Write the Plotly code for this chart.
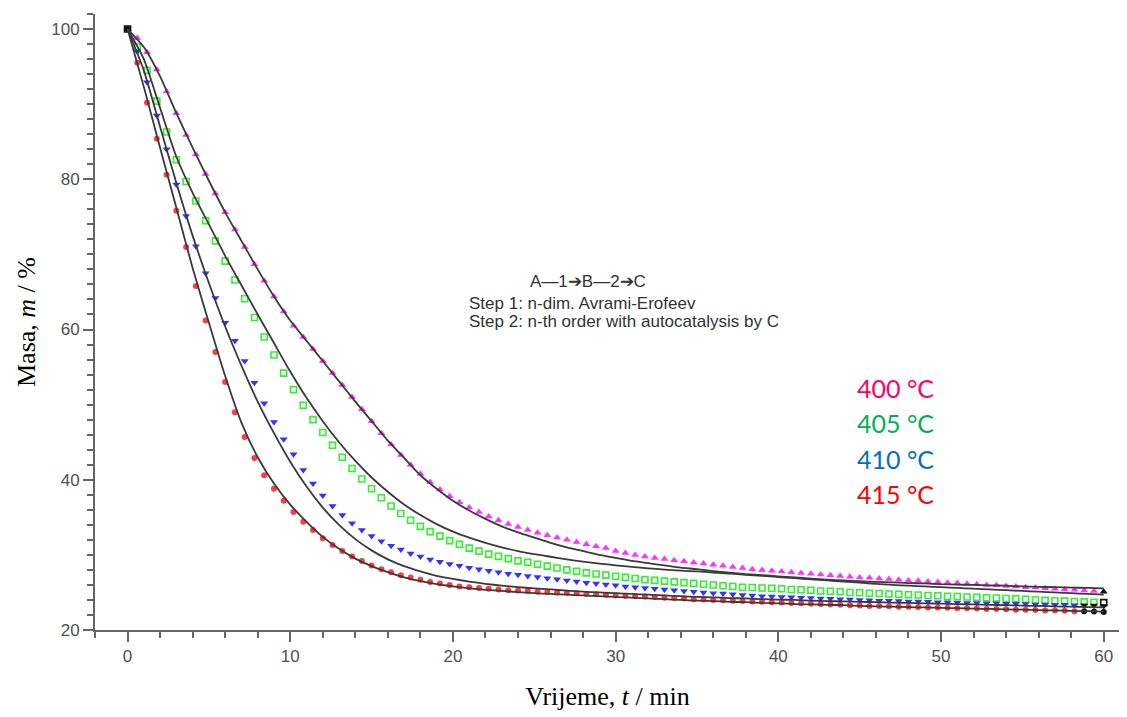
import plotly.graph_objects as go

# ---------------- data ----------------
TIME = [0.0, 0.6, 1.2, 1.8, 2.4, 3.0, 3.6, 4.2, 4.8, 5.4, 6.0, 6.6, 7.2, 7.8, 8.4, 9.0, 9.6,
        10.2, 10.8, 11.4, 12.0, 12.6, 13.2, 13.8, 14.4, 15.0, 15.6, 16.2, 16.8, 17.4, 18.0,
        18.6, 19.2, 19.8, 20.4, 21.0, 21.6, 22.2, 22.8, 23.4, 24.0, 24.6, 25.2, 25.8, 26.4,
        27.0, 27.6, 28.2, 28.8, 29.4, 30.0, 30.6, 31.2, 31.8, 32.4, 33.0, 33.6, 34.2, 34.8,
        35.4, 36.0, 36.6, 37.2, 37.8, 38.4, 39.0, 39.6, 40.2, 40.8, 41.4, 42.0, 42.6, 43.2,
        43.8, 44.4, 45.0, 45.6, 46.2, 46.8, 47.4, 48.0, 48.6, 49.2, 49.8, 50.4, 51.0, 51.6,
        52.2, 52.8, 53.4, 54.0, 54.6, 55.2, 55.8, 56.4, 57.0, 57.6, 58.2, 58.8, 59.4, 60.0]

M400 = [100.0, 98.8, 96.9, 94.6, 91.7, 88.8, 85.9, 83.3, 80.7, 78.1, 75.6, 73.3, 71.0, 68.7,
        66.5, 64.4, 62.4, 60.5, 59.0, 57.4, 55.8, 54.2, 52.6, 51.0, 49.4, 47.8, 46.2, 44.7,
        43.3, 42.0, 40.8, 39.7, 38.7, 37.8, 37.0, 36.3, 35.7, 35.1, 34.6, 34.1, 33.7, 33.3,
        32.95, 32.6, 32.3, 32.0, 31.7, 31.4, 31.15, 30.9, 30.5, 30.25, 30.0, 29.8, 29.6,
        29.45, 29.3, 29.15, 29.0, 28.85, 28.7, 28.55, 28.4, 28.25, 28.1, 28.0, 27.9, 27.8,
        27.7, 27.6, 27.5, 27.4, 27.3, 27.2, 27.1, 27.0, 26.95, 26.85, 26.8, 26.7, 26.6,
        26.55, 26.45, 26.4, 26.3, 26.25, 26.15, 26.1, 26.0, 25.95, 25.85, 25.8, 25.7, 25.65,
        25.55, 25.5, 25.4, 25.35, 25.25, 25.2, 25.1]

M405 = [100.0, 97.6, 94.5, 90.4, 86.3, 82.6, 79.7, 77.1, 74.5, 71.8, 69.1, 66.6, 64.1, 61.6,
        59.0, 56.6, 54.2, 52.0, 49.9, 48.0, 46.3, 44.6, 43.0, 41.5, 40.1, 38.8, 37.6, 36.5,
        35.5, 34.6, 33.8, 33.1, 32.5, 31.9, 31.4, 30.9, 30.5, 30.1, 29.8, 29.5, 29.2, 29.0,
        28.75, 28.5, 28.25, 28.0, 27.8, 27.6, 27.45, 27.3, 27.15, 27.0, 26.85, 26.7, 26.6,
        26.5, 26.4, 26.3, 26.2, 26.1, 26.0, 25.9, 25.8, 25.7, 25.65, 25.6, 25.55, 25.5,
        25.4, 25.35, 25.3, 25.2, 25.15, 25.1, 25.0, 24.95, 24.9, 24.85, 24.8, 24.75, 24.7,
        24.65, 24.6, 24.55, 24.5, 24.45, 24.4, 24.35, 24.3, 24.25, 24.2, 24.15, 24.1, 24.0,
        23.95, 23.9, 23.85, 23.8, 23.75, 23.7, 23.65]

M410 = [100.0, 97.0, 92.9, 88.5, 84.0, 79.3, 75.1, 71.1, 67.5, 64.2, 60.9, 58.5, 55.8, 52.9,
        50.2, 47.7, 45.4, 43.4, 41.3, 39.5, 37.9, 36.5, 35.3, 34.2, 33.3, 32.5, 31.8, 31.2,
        30.7, 30.2, 29.8, 29.4, 29.1, 28.8, 28.55, 28.3, 28.1, 27.9, 27.7, 27.5, 27.35,
        27.2, 27.05, 26.9, 26.75, 26.6, 26.45, 26.3, 26.2, 26.05, 25.95, 25.8, 25.7, 25.6,
        25.5, 25.4, 25.3, 25.2, 25.1, 25.0, 24.9, 24.85, 24.75, 24.65, 24.6, 24.5, 24.45,
        24.4, 24.35, 24.3, 24.25, 24.2, 24.15, 24.1, 24.05, 24.0, 23.95, 23.9, 23.9, 23.85,
        23.8, 23.8, 23.75, 23.7, 23.7, 23.65, 23.6, 23.6, 23.55, 23.55, 23.5, 23.5, 23.45,
        23.4, 23.4, 23.35, 23.35, 23.3, 23.3, 23.25, 23.2]

M415 = [100.0, 95.5, 90.2, 85.4, 80.6, 75.8, 71.0, 65.8, 61.2, 57.0, 53.0, 49.0, 45.7, 42.9,
        40.6, 38.8, 37.2, 35.7, 34.4, 33.3, 32.2, 31.3, 30.5, 29.8, 29.2, 28.6, 28.1, 27.7,
        27.3, 27.0, 26.7, 26.4, 26.2, 26.0, 25.8, 25.7, 25.6, 25.5, 25.4, 25.3, 25.25, 25.2,
        25.1, 25.05, 25.0, 24.95, 24.9, 24.8, 24.75, 24.7, 24.6, 24.55, 24.5, 24.45, 24.4,
        24.3, 24.25, 24.2, 24.1, 24.05, 24.0, 23.95, 23.9, 23.85, 23.8, 23.75, 23.7, 23.65,
        23.6, 23.55, 23.5, 23.45, 23.4, 23.35, 23.3, 23.25, 23.2, 23.2, 23.15, 23.1, 23.1,
        23.05, 23.0, 23.0, 22.95, 22.9, 22.9, 22.85, 22.8, 22.8, 22.75, 22.7, 22.7, 22.65,
        22.6, 22.6, 22.55, 22.5, 22.5, 22.45, 22.4]

FIT_TIME = [0, 1, 2, 3, 4, 5, 6, 7, 8, 9, 10, 11, 12, 13, 14, 15, 16, 17, 18, 19, 20,
            21, 22, 23, 24, 25, 26, 27, 28, 29, 30, 31, 32, 33, 34, 35, 36, 37, 38, 39, 40,
            41, 42, 43, 44, 45, 46, 47, 48, 49, 50, 51, 52, 53, 54, 55, 56, 57, 58, 59, 60]

FIT400 = [100.0, 97.6, 93.7, 88.8, 84.2, 79.8, 75.6, 71.8, 68.0, 64.4, 61.2, 58.5, 55.8,
          53.1, 50.4, 47.8, 45.2, 42.9, 40.6, 38.8, 37.2, 35.9, 34.8, 33.8, 33.0, 32.3,
          31.6, 31.0, 30.5, 30.0, 29.6, 29.2, 28.9, 28.6, 28.3, 28.1, 27.85, 27.65, 27.45,
          27.3, 27.15, 27.0, 26.85, 26.7, 26.6, 26.5, 26.4, 26.35, 26.25, 26.2, 26.1,
          26.05, 26.0, 25.95, 25.9, 25.8, 25.75, 25.7, 25.65, 25.6, 25.55]

FIT405 = [100.0, 96.0, 89.5, 83.0, 78.2, 74.0, 69.8, 65.9, 62.0, 58.2, 54.4, 50.9, 47.8,
          45.0, 42.5, 40.3, 38.4, 36.7, 35.3, 34.1, 33.1, 32.3, 31.6, 31.0, 30.5, 30.1,
          29.75, 29.4, 29.1, 28.85, 28.6, 28.4, 28.2, 28.05, 27.9, 27.8, 27.65, 27.5,
          27.35, 27.2, 27.05, 26.9, 26.75, 26.6, 26.45, 26.3, 26.15, 26.0, 25.9, 25.8,
          25.7, 25.6, 25.5, 25.4, 25.3, 25.2, 25.1, 25.0, 24.9, 24.8, 24.7]

FIT410 = [100.0, 94.5, 87.0, 79.5, 72.5, 66.2, 60.4, 55.2, 50.4, 46.2, 42.4, 39.1, 36.3,
          34.0, 32.1, 30.6, 29.4, 28.5, 27.8, 27.2, 26.8, 26.45, 26.15, 25.9, 25.7, 25.55,
          25.4, 25.25, 25.1, 25.0, 24.9, 24.8, 24.7, 24.6, 24.5, 24.4, 24.35, 24.25, 24.2,
          24.1, 24.05, 24.0, 23.9, 23.85, 23.8, 23.75, 23.7, 23.65, 23.6, 23.55, 23.5,
          23.45, 23.4, 23.35, 23.3, 23.25, 23.2, 23.15, 23.1, 23.05, 23.0]

FIT415 = [100.0, 92.3, 84.2, 76.2, 68.2, 60.9, 53.8, 47.6, 43.0, 39.5, 36.7, 34.4, 32.4,
          30.8, 29.5, 28.5, 27.7, 27.0, 26.5, 26.1, 25.8, 25.55, 25.35, 25.2, 25.05, 24.9,
          24.8, 24.7, 24.6, 24.5, 24.4, 24.3, 24.2, 24.1, 24.0, 23.9, 23.85, 23.75, 23.7,
          23.6, 23.55, 23.45, 23.4, 23.35, 23.3, 23.2, 23.15, 23.1, 23.05, 23.0, 22.95,
          22.9, 22.85, 22.8, 22.75, 22.7, 22.65, 22.6, 22.55, 22.5, 22.45]

LABELS = ["400 °C", "405 °C", "410 °C", "415 °C"]
SCHEME = "A—1➔B—2➔C"
STEP_TEXT = ["Step 1: n-dim. Avrami-Erofeev", "Step 2: n-th order with autocatalysis by C"]
X_TICKS = [0, 10, 20, 30, 40, 50, 60]
Y_TICKS = [20, 40, 60, 80, 100]

# ---------------- styling ----------------
series = [
    (M400, FIT400, "#FF33FF", "triangle-up", 7, 1),
    (M405, FIT405, "#33EE33", "square-open", 6, 1),
    (M410, FIT410, "#3333FF", "triangle-down", 7, 3),
    (M415, FIT415, "#FF3B3B", "circle", 6, 3),
]
label_colors = ["#FF0066", "#00B050", "#0070C0", "#FF0000"]

fig = go.Figure()
for vals, fit, col, sym, size, n_black in series:
    colors = [col] * len(vals)
    colors[0] = "#111111"
    for k in range(1, n_black + 1):
        colors[-k] = "#111111"
    fig.add_trace(go.Scatter(
        x=TIME, y=vals, mode="markers",
        marker=dict(symbol=sym, size=size, color=colors,
                    line=dict(width=1.6 if "open" in sym else 0, color=colors)),
        showlegend=False, hoverinfo="x+y"))

for vals, fit, col, sym, size, n_black in series:
    fig.add_trace(go.Scatter(
        x=FIT_TIME, y=fit, mode="lines",
        line=dict(color="#3a3a3a", width=1.8, shape="spline", smoothing=0.6),
        showlegend=False, hoverinfo="skip"))

ax_col = "#666666"
common = dict(showline=True, linecolor=ax_col, linewidth=2, ticks="outside",
              tickcolor=ax_col, tickwidth=2, ticklen=10, showgrid=False, zeroline=False,
              tickfont=dict(family="Liberation Sans, Arial", size=17, color="#505050"))

# the page body has an 8px margin, so the figure is shifted by 8px: compensate
fig.update_layout(
    width=1119, height=709,
    margin=dict(l=87, r=7, t=6, b=87),
    plot_bgcolor="white", paper_bgcolor="white",
    xaxis=dict(range=[-2, 61], tickvals=X_TICKS,
               minor=dict(dtick=2, tick0=0, ticks="outside", ticklen=6, tickwidth=2,
                          tickcolor=ax_col),
               title=dict(text="Vrijeme, <i>t</i> / min", standoff=21,
                          font=dict(family="Liberation Serif, Times New Roman", size=26,
                                    color="black")),
               **common),
    yaxis=dict(range=[20, 102], tickvals=Y_TICKS,
               minor=dict(dtick=2, tick0=0, ticks="outside", ticklen=6, tickwidth=2,
                          tickcolor=ax_col),
               title=dict(text="Masa, <i>m</i> / %", standoff=8,
                          font=dict(family="Liberation Serif, Times New Roman", size=26,
                                    color="black")),
               **common),
)

# text annotations (paper coordinates)
fig.add_annotation(x=0.4805, y=0.565, xref="paper", yref="paper", text=SCHEME,
                   showarrow=False, xanchor="center", yanchor="middle",
                   font=dict(family="Liberation Sans, Arial", size=17, color="#333333"))
for i, txt in enumerate(STEP_TEXT):
    fig.add_annotation(x=0.3629, y=0.5300 - i * 0.0295, xref="paper", yref="paper",
                       text=txt, showarrow=False, xanchor="left", yanchor="middle",
                       font=dict(family="Liberation Sans, Arial", size=17, color="#333333"))

label_y = [0.3929, 0.336, 0.2776, 0.2208]
for txt, c, yy in zip(LABELS, label_colors, label_y):
    fig.add_annotation(x=0.7415, y=yy, xref="paper", yref="paper", text=txt,
                       showarrow=False, xanchor="left", yanchor="middle",
                       font=dict(family="Lato, Noto Sans", size=25, color=c))

fig.write_html("out.html")
